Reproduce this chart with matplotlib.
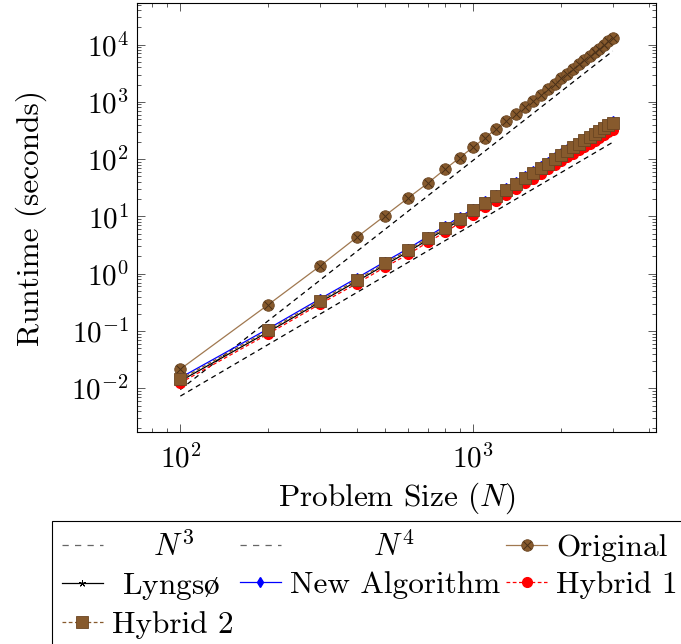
import numpy as np
import matplotlib
matplotlib.use("Agg")
import matplotlib.pyplot as plt
from matplotlib.lines import Line2D
from matplotlib.ticker import LogLocator, NullFormatter

plt.rcParams['font.family'] = ['cmr10', 'DejaVu Serif']
plt.rcParams['mathtext.fontset'] = 'cm'
plt.rcParams['axes.formatter.use_mathtext'] = True

# ---- data ----
N = [100, 200, 300, 400, 500, 600, 700, 800, 900, 1000,
     1100, 1200, 1300, 1400, 1500, 1600, 1700, 1800, 1900, 2000,
     2100, 2200, 2300, 2400, 2500, 2600, 2700, 2800, 2900, 3000]

original = [0.0216, 0.29, 1.36, 4.3, 10.3, 21, 38, 66, 106, 162,
            236, 340, 462, 620, 810, 1050, 1340, 1690, 2090, 2570,
            3120, 3760, 4490, 5330, 6270, 7340, 8530, 9870, 11360, 13060]

hybrid2 = [0.0143, 0.103, 0.34, 0.78, 1.51, 2.57, 4.15, 6.28, 9.12, 12.7,
           17.3, 22.5, 29.4, 37.3, 46.6, 57.4, 69.7, 83.8, 99.8, 117.7,
           137.7, 160, 184.6, 211.7, 241.5, 274, 309.4, 347.8, 389.3, 435]

hybrid1 = [0.0124, 0.0896, 0.296, 0.671, 1.30, 2.18, 3.53, 5.28, 7.66, 10.5,
           14.4, 18.5, 24.1, 30.2, 37.7, 45.9, 55.8, 66.2, 78.8, 91.8,
           107.4, 124.8, 142.1, 163.0, 186.0, 208.2, 235.1, 264.3, 292.0, 326]

new_alg = [0.0153, 0.110, 0.364, 0.835, 1.62, 2.75, 4.44, 6.72, 9.76, 13.6,
           18.5, 24.1, 31.5, 39.9, 49.9, 61.4, 74.6, 89.7, 106.8, 125.9,
           147.3, 171.2, 197.5, 226.5, 258.4, 293.2, 331.1, 372.1, 416.6, 465.5]

lyngso = [0.0134, 0.0968, 0.320, 0.733, 1.42, 2.42, 3.90, 5.90, 8.57, 11.9,
          16.3, 21.2, 27.6, 35.1, 43.8, 54.0, 65.5, 78.8, 93.8, 110.6,
          129.4, 150.4, 173.5, 199.0, 227.0, 257.6, 290.8, 326.9, 365.9, 408.9]

N_ref = [100, 3000]
ref_n3 = [0.0073, 197]
ref_n4 = [0.0095, 7700]

brown_fill = '#875A2D'
brown_edge = '#6A4522'
brown_line = '#A07850'

fig = plt.figure(figsize=(6.81, 6.44), dpi=100)
ax = fig.add_axes([0.2012, 0.3292, 0.9633 - 0.2012, 0.9953 - 0.3292])
ax.set_xscale('log')
ax.set_yscale('log')

dash = (0, (4.0, 3.2))
l_n3, = ax.plot(N_ref, ref_n3, color='black', lw=0.9, linestyle=dash)
l_n4, = ax.plot(N_ref, ref_n4, color='black', lw=0.9, linestyle=dash)

l_orig, = ax.plot(N, original, color=brown_line, lw=0.9, marker='o', ms=8.3,
                  mfc=brown_fill, mec=brown_edge, mew=0.6, zorder=3)
l_origx, = ax.plot(N, original, linestyle='none', marker='x', ms=5.5,
                   mec='#4A3018', mew=0.7, zorder=3.1)

l_lyn, = ax.plot(N, lyngso, color='black', lw=0.9, marker=(5, 2, 0), ms=5,
                 mew=0.6, zorder=3.2)
l_new, = ax.plot(N, new_alg, color='blue', lw=0.9, marker='d', ms=5,
                 mfc='blue', mec='blue', zorder=3.3)
l_h1, = ax.plot(N, hybrid1, color='red', lw=0.9, linestyle=(0, (3, 2)),
                marker='o', ms=7, mfc='red', mec='red', zorder=3.4)
l_h2, = ax.plot(N, hybrid2, color=brown_fill, lw=0.9, linestyle=(0, (3, 2)),
                marker='s', ms=8, mfc=brown_fill, mec=brown_edge, mew=0.6,
                zorder=3.5)

ax.set_xlim(10 ** 1.852, 10 ** 3.625)
ax.set_ylim(10 ** -2.763, 10 ** 4.725)

ax.xaxis.set_major_locator(LogLocator(base=10, numticks=10))
ax.xaxis.set_minor_locator(LogLocator(base=10, subs=np.arange(2, 10), numticks=20))
ax.yaxis.set_major_locator(LogLocator(base=10, numticks=15))
ax.yaxis.set_minor_locator(LogLocator(base=10, subs=np.arange(2, 10), numticks=30))
ax.xaxis.set_minor_formatter(NullFormatter())
ax.yaxis.set_minor_formatter(NullFormatter())

ax.tick_params(which='both', direction='in', top=True, right=True,
               color='0.25', width=0.6)
ax.tick_params(which='major', length=5.5, labelsize=21)
ax.tick_params(which='minor', length=3)
ax.tick_params(axis='x', which='major', pad=9)
ax.tick_params(axis='y', which='major', pad=6)
for s in ax.spines.values():
    s.set_linewidth(0.8)

ax.set_xlabel(r'Problem Size ($N$)', fontsize=22.5, labelpad=5)
ax.set_ylabel(r'Runtime (seconds)', fontsize=22.5)
ax.yaxis.set_label_coords(-0.173, 0.5)

# legend proxies for the reference lines (drawn lighter in the legend)
p_n3 = Line2D([], [], color='0.4', lw=0.9, linestyle=(0, (5, 5)))
p_n4 = Line2D([], [], color='0.4', lw=0.9, linestyle=(0, (5, 5)))

handles = [p_n3, l_lyn, l_h2, p_n4, l_new, (l_orig, l_origx), l_h1]
labels = [r'    $N^3$', r' Lyngs$\mathrm{ø}$', 'Hybrid 2', r'        $N^4$',
          'New Algorithm', 'Original', 'Hybrid 1']
leg = fig.legend(handles, labels, ncol=3, loc='upper left',
                 bbox_to_anchor=(0.0764, 0.191), bbox_transform=fig.transFigure,
                 borderaxespad=0, fontsize=22.5, frameon=True, fancybox=False,
                 edgecolor='black', framealpha=1, handlelength=1.3,
                 handletextpad=0.3, columnspacing=0.2, labelspacing=0.28,
                 borderpad=0.32)
leg.get_frame().set_linewidth(0.8)
for t in leg.get_texts():
    if 'Lyngs' in t.get_text():
        t.set_math_fontfamily('stix')

fig.savefig('out.png', dpi=100)
